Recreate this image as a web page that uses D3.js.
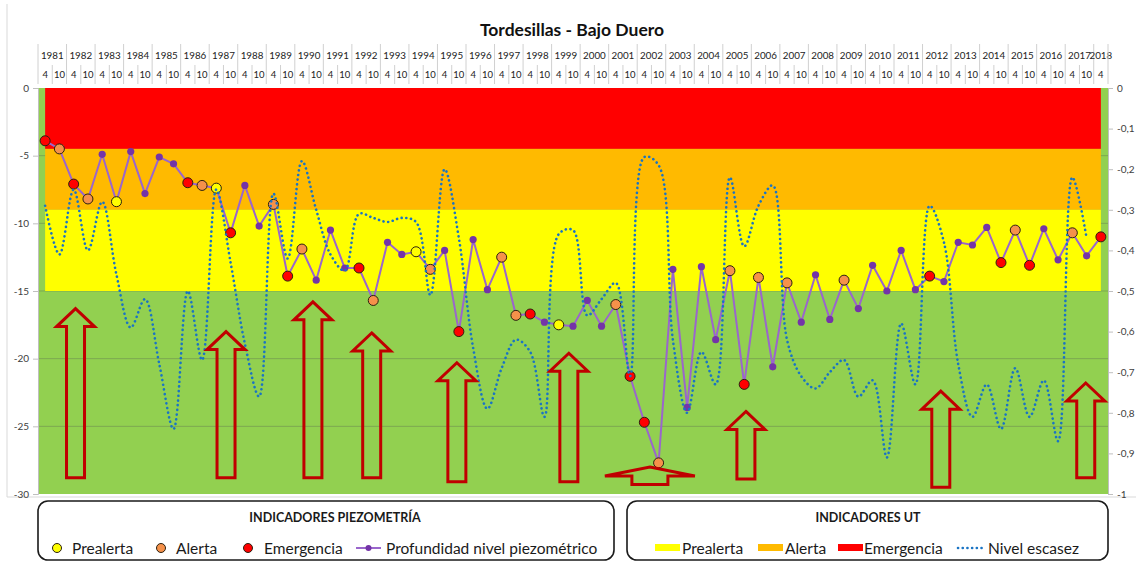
<!DOCTYPE html>
<html>
<head>
<meta charset="utf-8">
<script src="https://cdn.jsdelivr.net/npm/d3@7"></script>
<style>
body { margin: 0; background: #ffffff; }
svg { font-family: Lato, "Open Sans", sans-serif; }
</style>
</head>
<body>
<div id="chart"></div>
<script>
// Frame and plot area
const FRAME_WIDTH = 1136;
const FRAME_HEIGHT = 562;
const PLOT = {left: 38, right: 1108, top: 88, bottom: 494};

// Category labels (April / October of every year)
const YEARS = ["1981","1982","1983","1984","1985","1986","1987","1988","1989","1990",
               "1991","1992","1993","1994","1995","1996","1997","1998","1999","2000",
               "2001","2002","2003","2004","2005","2006","2007","2008","2009","2010",
               "2011","2012","2013","2014","2015","2016","2017","2018"];
const MONTHS = ["4", "10"];

// Profundidad nivel piezometrico (m), one value per category
const DEPTH = [-3.9, -4.5, -7.1, -8.2, -4.9, -8.4, -4.7, -7.8, -5.1, -5.6,
               -7.0, -7.2, -7.4, -10.7, -7.2, -10.2, -8.6, -13.9, -11.9, -14.2,
               -10.5, -13.3, -13.3, -15.7, -11.4, -12.3, -12.1, -13.4, -12.0, -18.0,
               -11.2, -14.9, -12.5, -16.8, -16.7, -17.3, -17.5, -17.6, -15.7, -17.6,
               -16.0, -21.3, -24.7, -27.7, -13.4, -23.6, -13.2, -18.6, -13.5, -21.9,
               -14.0, -20.6, -14.4, -17.3, -13.8, -17.1, -14.2, -16.3, -13.1, -15.0,
               -12.0, -14.9, -13.9, -14.3, -11.4, -11.6, -10.3, -12.9, -10.5, -13.1,
               -10.4, -12.7, -10.7, -12.4, -11.0];

// Indicator state of each piezometric point: P prealerta, A alerta, E emergencia
const STATUS = ["E","A","E","A","","P","","","","",
                "E","A","P","E","","","A","E","A","",
                "","","E","A","","","P","A","","E",
                "","","A","A","E","","P","","","",
                "A","E","E","A","","","","","A","E",
                "A","","A","","","","A","","","",
                "","","E","","","","","E","A","E",
                "","","A","","E"];

// Nivel escasez (secondary axis)
const ESCASEZ = [-0.29, -0.41, -0.25, -0.40, -0.28, -0.46, -0.59, -0.52, -0.68, -0.84,
                 -0.50, -0.67, -0.25, -0.43, -0.63, -0.76, -0.26, -0.42, -0.18, -0.30,
                 -0.41, -0.45, -0.31, -0.32, -0.33, -0.32, -0.33, -0.51, -0.20, -0.37,
                 -0.64, -0.79, -0.69, -0.62, -0.65, -0.81, -0.36, -0.35, -0.56, -0.52,
                 -0.48, -0.71, -0.17, -0.19, -0.62, -0.80, -0.65, -0.73, -0.22, -0.39,
                 -0.29, -0.24, -0.62, -0.71, -0.74, -0.70, -0.67, -0.76, -0.72, -0.91,
                 -0.58, -0.73, -0.29, -0.38, -0.68, -0.81, -0.73, -0.84, -0.69, -0.81,
                 -0.72, -0.87, -0.22, -0.37, null];

// UT indicator bands (upper and lower limit, m)
const BAND_NAMES = ["Emergencia", "Alerta", "Prealerta"];
const BAND_TOP = [0, -4.5, -9];
const BAND_BOTTOM = [-4.5, -9, -15];

// Axis ticks
const LEFT_TICKS = [0, -5, -10, -15, -20, -25, -30];
const RIGHT_TICKS = [0, -0.1, -0.2, -0.3, -0.4, -0.5, -0.6, -0.7, -0.8, -0.9, -1];

// Red arrows: position in category units, tip and base in metres
const ARROW_AT = [2.13, 12.68, 18.77, 22.89, 28.86, 36.71, 42.39, 49.12, 62.78, 72.94];
const ARROW_TIP = [-16.3, -18.0, -15.8, -18.1, -20.3, -19.6, -28.0, -23.9, -22.4, -21.8];
const ARROW_BASE = [-28.8, -28.8, -28.8, -28.8, -29.1, -29.1, -29.3, -28.9, -29.5, -28.8];
const ARROW_WIDE = [false, false, false, false, false, false, true, false, false, false];

const COLORS = {
  Emergencia: "#ff0000",
  Alerta: "#ffba00",
  Prealerta: "#ffff00",
  green: "#92d050"
};
const MARKER_FILL = {P: "#ffff00", A: "#f5914a", E: "#ff0000"};

// Build the category list
const CATEGORIES = [];
YEARS.forEach((y) => {
  MONTHS.forEach((m) => { CATEGORIES.push({year: y, month: m}); });
});
CATEGORIES.length = DEPTH.length;

const FRAME = d3.select("#chart")
  .append("svg")
    .attr("width", FRAME_WIDTH)
    .attr("height", FRAME_HEIGHT);

FRAME.append("rect")
  .attr("width", FRAME_WIDTH).attr("height", FRAME_HEIGHT).attr("fill", "#ffffff");

// Scales
const X_SCALE = d3.scaleBand()
  .domain(d3.range(CATEGORIES.length))
  .range([PLOT.left, PLOT.right]);
const BW = X_SCALE.bandwidth();
const X_POS = d3.scaleLinear()
  .domain([0, CATEGORIES.length - 1])
  .range([X_SCALE(0) + BW / 2, X_SCALE(CATEGORIES.length - 1) + BW / 2]);
const Y_SCALE = d3.scaleLinear().domain([-30, 0]).range([PLOT.bottom, PLOT.top]);
const Y2_SCALE = d3.scaleLinear().domain([-1, 0]).range([PLOT.bottom, PLOT.top]);

// chart area edges
FRAME.append("line")
  .attr("x1", 7).attr("x2", 7).attr("y1", 4).attr("y2", 497)
  .attr("stroke", "#d9d9d9");
FRAME.append("line")
  .attr("x1", 7).attr("x2", FRAME_WIDTH).attr("y1", 497).attr("y2", 497)
  .attr("stroke", "#d9d9d9");

// Title
FRAME.append("text")
  .attr("x", 572).attr("y", 36)
  .attr("text-anchor", "middle")
  .style("font-size", "17.5px")
  .style("font-weight", 700)
  .attr("fill", "#111")
  .text("Tordesillas - Bajo Duero");

// Header table with years and months
const HEADER = FRAME.append("g");
CATEGORIES.forEach((c, i) => {
  HEADER.append("line")
    .attr("x1", X_SCALE(i)).attr("x2", X_SCALE(i))
    .attr("y1", c.month === "4" ? 44 : 65).attr("y2", 84)
    .attr("stroke", "#d0d0d0");
  HEADER.append("text")
    .attr("x", X_SCALE(i) + BW / 2).attr("y", 78)
    .attr("text-anchor", "middle")
    .style("font-size", "9.5px")
    .attr("fill", "#222")
    .text(c.month);
  if (c.month === "4") {
    const span = (i + 1 < CATEGORIES.length) ? 2 * BW : BW;
    HEADER.append("text")
      .attr("x", X_SCALE(i) + span / 2).attr("y", 59)
      .attr("text-anchor", "middle")
      .style("font-size", "9.8px")
      .attr("fill", "#222")
      .text(c.year);
  }
});
HEADER.append("line")
  .attr("x1", PLOT.right).attr("x2", PLOT.right).attr("y1", 44).attr("y2", 84)
  .attr("stroke", "#d0d0d0");

// Plot background (green) and gridlines
FRAME.append("rect")
  .attr("x", PLOT.left).attr("y", PLOT.top)
  .attr("width", PLOT.right - PLOT.left).attr("height", PLOT.bottom - PLOT.top)
  .attr("fill", COLORS.green);

FRAME.selectAll(".grid")
  .data(LEFT_TICKS.filter((d) => d < 0 && d > -30))
  .enter()
  .append("line")
    .attr("x1", PLOT.left).attr("x2", PLOT.right)
    .attr("y1", (d) => Y_SCALE(d)).attr("y2", (d) => Y_SCALE(d))
    .attr("stroke", "#6f8f52")
    .attr("stroke-width", 1)
    .attr("opacity", 0.6);

// UT bands, spanning first to last category
FRAME.selectAll(".band")
  .data(BAND_NAMES)
  .enter()
  .append("rect")
    .attr("x", X_POS(0))
    .attr("width", X_POS(CATEGORIES.length - 1) - X_POS(0))
    .attr("y", (d, i) => Y_SCALE(BAND_TOP[i]))
    .attr("height", (d, i) => Y_SCALE(BAND_BOTTOM[i]) - Y_SCALE(BAND_TOP[i]))
    .attr("fill", (d) => COLORS[d]);

// Axes
const LEFT_AXIS = FRAME.append("g")
  .attr("transform", "translate(" + PLOT.left + ",0)")
  .call(d3.axisLeft(Y_SCALE).tickValues(LEFT_TICKS).tickSize(5).tickPadding(4)
        .tickFormat((d) => String(d)));
const RIGHT_AXIS = FRAME.append("g")
  .attr("transform", "translate(" + PLOT.right + ",0)")
  .call(d3.axisRight(Y2_SCALE).tickValues(RIGHT_TICKS).tickSize(5).tickPadding(4)
        .tickFormat((d) => String(d).replace(".", ",")));
[LEFT_AXIS, RIGHT_AXIS].forEach((ax) => {
  ax.select(".domain").attr("stroke", "#bfbfbf");
  ax.selectAll(".tick line").attr("stroke", "#bfbfbf");
  ax.selectAll(".tick text")
    .attr("fill", "#404040")
    .style("font-size", "10px")
    .style("font-family", "Lato, sans-serif");
});

// Piezometric depth line
const depthLine = d3.line()
  .x((d, i) => X_POS(i))
  .y((d) => Y_SCALE(d));
FRAME.append("path")
  .datum(DEPTH)
  .attr("d", depthLine)
  .attr("fill", "none")
  .attr("stroke", "#9a66cc")
  .attr("stroke-width", 2);

FRAME.selectAll(".pt")
  .data(DEPTH)
  .enter()
  .append("circle")
    .attr("cx", (d, i) => X_POS(i))
    .attr("cy", (d) => Y_SCALE(d))
    .attr("r", (d, i) => STATUS[i] ? 5 : 3.6)
    .attr("fill", (d, i) => STATUS[i] ? MARKER_FILL[STATUS[i]] : "#7434a8")
    .attr("stroke", (d, i) => STATUS[i] ? "#2b2010" : "none")
    .attr("stroke-width", 1);

// Nivel escasez, dotted smooth line on secondary axis
const escasezLine = d3.line()
  .defined((d) => d !== null)
  .x((d, i) => X_POS(i))
  .y((d) => Y2_SCALE(d))
  .curve(d3.curveCatmullRom.alpha(0.5));
FRAME.append("path")
  .datum(ESCASEZ)
  .attr("d", escasezLine)
  .attr("fill", "none")
  .attr("stroke", "#1a74c4")
  .attr("stroke-width", 2.6)
  .attr("stroke-linecap", "round")
  .attr("stroke-dasharray", "0.1 4.6");

// Red hollow arrows
function arrow_path(cx, tip, base, wide) {
  const head = wide ? 45 : 19;
  const shaft = wide ? 18 : 9;
  const hh = wide ? 9 : 18;
  return "M" + cx + "," + tip +
    "L" + (cx + head) + "," + (tip + hh) +
    "L" + (cx + shaft) + "," + (tip + hh) +
    "L" + (cx + shaft) + "," + base +
    "L" + (cx - shaft) + "," + base +
    "L" + (cx - shaft) + "," + (tip + hh) +
    "L" + (cx - head) + "," + (tip + hh) + "Z";
}
FRAME.selectAll(".arrow")
  .data(ARROW_AT)
  .enter()
  .append("path")
    .attr("d", (d, i) => arrow_path(X_POS(d), Y_SCALE(ARROW_TIP[i]), Y_SCALE(ARROW_BASE[i]), ARROW_WIDE[i]))
    .attr("fill", "none")
    .attr("stroke", "#c00000")
    .attr("stroke-width", 3)
    .attr("stroke-linejoin", "miter");

// Legend boxes
function legend_box(x, w, title, cx) {
  FRAME.append("rect")
    .attr("x", x).attr("y", 501)
    .attr("width", w).attr("height", 59)
    .attr("rx", 10)
    .attr("fill", "#ffffff")
    .attr("stroke", "#1a1a1a")
    .attr("stroke-width", 1.6);
  FRAME.append("text")
    .attr("x", cx).attr("y", 522)
    .attr("text-anchor", "middle")
    .style("font-size", "12.5px")
    .style("font-weight", 700)
    .attr("fill", "#1a1a1a")
    .text(title);
}
function legend_text(x, txt) {
  FRAME.append("text")
    .attr("x", x).attr("y", 553.5)
    .style("font-size", "15.5px")
    .attr("fill", "#1a1a1a")
    .text(txt);
}

legend_box(38, 576, "INDICADORES PIEZOMETRÍA", 335);
[["P", 57, 72, "Prealerta"], ["A", 161, 176, "Alerta"], ["E", 248, 264, "Emergencia"]]
  .forEach((d) => {
    FRAME.append("circle")
      .attr("cx", d[1]).attr("cy", 548).attr("r", 4.5)
      .attr("fill", MARKER_FILL[d[0]])
      .attr("stroke", "#2b2010").attr("stroke-width", 1);
    legend_text(d[2], d[3]);
  });
FRAME.append("line")
  .attr("x1", 356).attr("x2", 381).attr("y1", 548).attr("y2", 548)
  .attr("stroke", "#9a66cc").attr("stroke-width", 2);
FRAME.append("circle")
  .attr("cx", 368.5).attr("cy", 548).attr("r", 3)
  .attr("fill", "#7434a8");
legend_text(386, "Profundidad nivel piezométrico");

legend_box(627, 481, "INDICADORES UT", 868);
[["Prealerta", 655, 682], ["Alerta", 758, 785], ["Emergencia", 838, 864]]
  .forEach((d) => {
    FRAME.append("rect")
      .attr("x", d[1]).attr("y", 544)
      .attr("width", 25).attr("height", 7)
      .attr("fill", COLORS[d[0]]);
    legend_text(d[2], d[0]);
  });
FRAME.append("line")
  .attr("x1", 958).attr("x2", 982).attr("y1", 548).attr("y2", 548)
  .attr("stroke", "#1a74c4").attr("stroke-width", 2.6)
  .attr("stroke-linecap", "round")
  .attr("stroke-dasharray", "0.1 4.6");
legend_text(988, "Nivel escasez");
</script>
</body>
</html>
